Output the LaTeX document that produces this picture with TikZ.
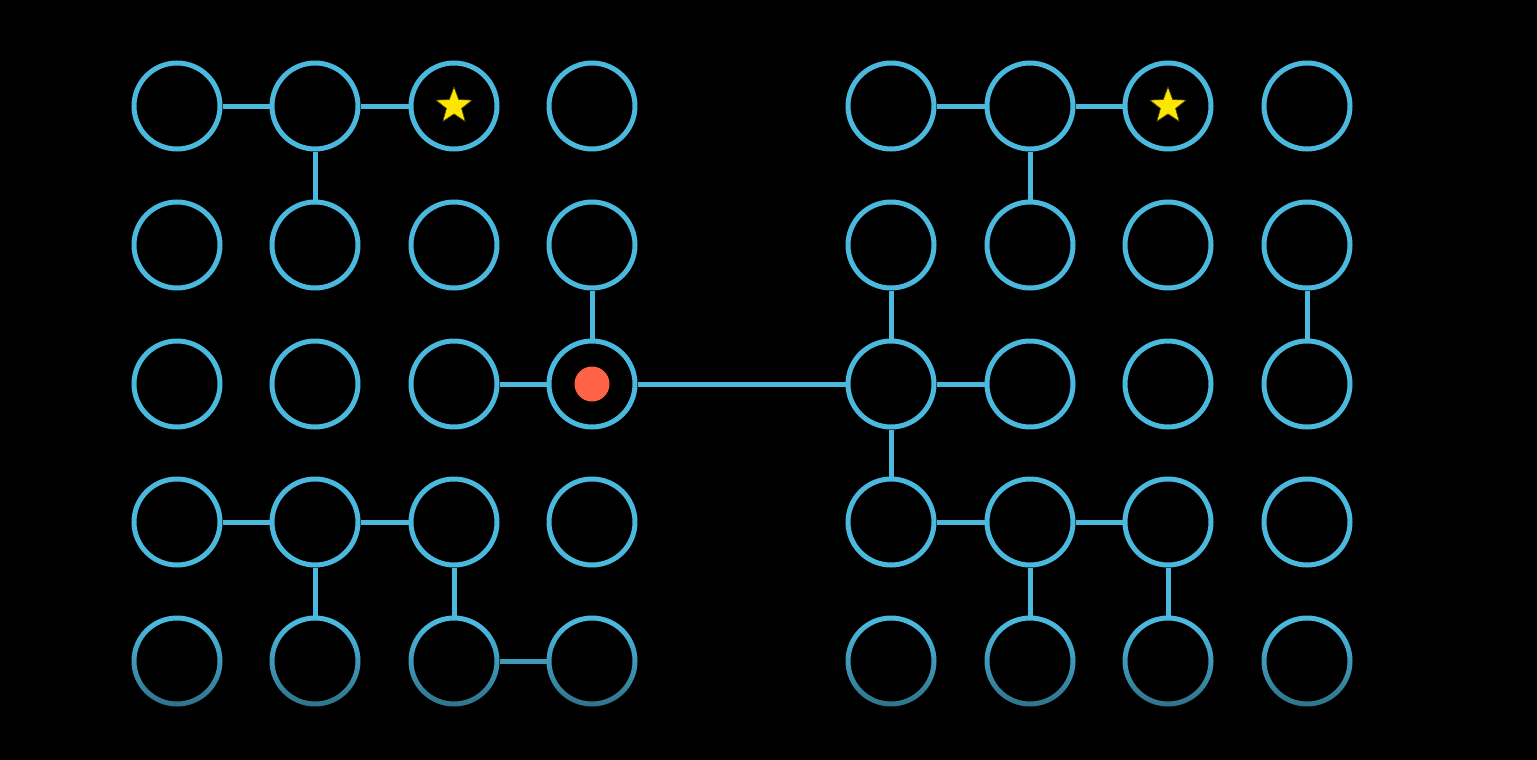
\documentclass[tikz,border=0pt]{standalone}
\usetikzlibrary{shapes.geometric,fadings}
\definecolor{ringblue}{HTML}{4BB8DE}
\definecolor{dotred}{HTML}{FF6347}
\definecolor{staryellow}{HTML}{FFE600}
\tikzfading[name=fadedown, top color=transparent!100, bottom color=transparent!0]
\tikzset{
  ring/.style={circle, draw=ringblue, line width=2.5pt, minimum size=43pt, inner sep=0pt},
  link/.style={draw=ringblue, line width=2.5pt},
  goalstar/.style={star, star points=5, star point ratio=2.4, fill=staryellow, draw=black!70!staryellow, line width=0.3pt, minimum size=19pt, inner sep=0pt},
  agent/.style={circle, fill=dotred, minimum size=17.5pt, inner sep=0pt}
}
\begin{document}
\begin{tikzpicture}[x=0.5pt, y=-0.5pt]
\fill[black] (0,0) rectangle (1537,760);
\useasboundingbox (0,0) rectangle (1537,760);
% grids
\foreach \r/\y in {0/106,1/245,2/384,3/522,4/661}{
  \foreach \c/\x in {0/177,1/315,2/454,3/592}{
    \node[ring] (L\c\r) at (\x,\y) {};
  }
  \foreach \c/\x in {0/891,1/1030,2/1168,3/1307}{
    \node[ring] (R\c\r) at (\x,\y) {};
  }
}
% left links
\path[link] (L00) -- (L10);
\path[link] (L10) -- (L20);
\path[link] (L10) -- (L11);
\path[link] (L31) -- (L32);
\path[link] (L22) -- (L32);
\path[link] (L03) -- (L13);
\path[link] (L13) -- (L23);
\path[link] (L13) -- (L14);
\path[link] (L23) -- (L24);
\path[link] (L24) -- (L34);
% bridge
\path[link] (L32) -- (R02);
% right links
\path[link] (R00) -- (R10);
\path[link] (R10) -- (R20);
\path[link] (R10) -- (R11);
\path[link] (R01) -- (R02);
\path[link] (R31) -- (R32);
\path[link] (R02) -- (R12);
\path[link] (R02) -- (R03);
\path[link] (R03) -- (R13);
\path[link] (R13) -- (R23);
\path[link] (R13) -- (R14);
\path[link] (R23) -- (R24);
% markers
\node[goalstar] (starL) at (454,106) {};
\node[goalstar] (starR) at (1168,106) {};
\node[agent] (agent) at (592,384) {};
% bottom fade
\fill[black, opacity=0.4, path fading=fadedown] (100,625) rectangle (1400,712);
\end{tikzpicture}
\end{document}
